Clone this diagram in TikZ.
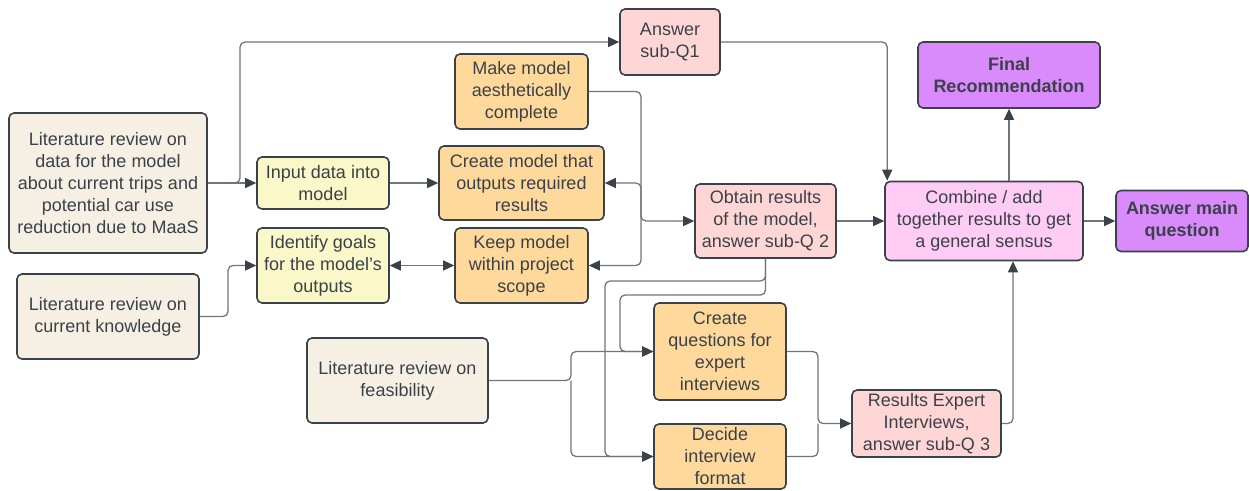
\documentclass[tikz,border=0pt]{standalone}
\usepackage{fontspec}
\setmainfont{Liberation Sans}
\usetikzlibrary{arrows.meta}
\definecolor{ink}{HTML}{3B4148}
\definecolor{wire}{HTML}{6E757C}
\definecolor{beige}{HTML}{F5F0E3}
\definecolor{lemon}{HTML}{FAF8C8}
\definecolor{apricot}{HTML}{FFD99C}
\definecolor{rose}{HTML}{FFD6D6}
\definecolor{orchid}{HTML}{FFCCF5}
\definecolor{violet}{HTML}{D98BFB}
\tikzset{
  tip/.tip={Triangle[length=11pt,width=10pt,color=ink]},
  box/.style={draw=ink, line width=1.6pt, rounded corners=5pt, text=ink,
    align=center, inner sep=0pt, font=\fontsize{18}{22}\selectfont},
  conn/.style={draw=wire, line width=1.3pt, rounded corners=5pt, -tip},
  link/.style={draw=wire, line width=1.3pt, rounded corners=5pt},
  both/.style={draw=wire, line width=1.3pt, tip-tip},
}
\begin{document}
\begin{tikzpicture}[x=1pt,y=-1pt]
\useasboundingbox (0,0) rectangle (1249,490);
% boxes
\node[box, fill=beige, minimum width=198, minimum height=140] (lit1) at (108,183)
  {Literature review on\\data for the model\\about current trips and\\potential car use\\reduction due to MaaS};
\node[box, fill=beige, minimum width=182, minimum height=85] (lit2) at (108,316.5)
  {Literature review on\\current knowledge};
\node[box, fill=lemon, minimum width=132, minimum height=52] (input) at (323,183)
  {Input data into\\model};
\node[box, fill=lemon, minimum width=132, minimum height=75] (goals) at (323,265.5)
  {Identify goals\\for the model's\\outputs};
\node[box, fill=rose, minimum width=100, minimum height=66] (subq1) at (670,42)
  {Answer\\sub-Q1};
\node[box, fill=apricot, minimum width=133, minimum height=75] (make) at (521.5,91.5)
  {Make model\\aesthetically\\complete};
\node[box, fill=apricot, minimum width=165, minimum height=74] (create) at (521.5,183)
  {Create model that\\outputs required\\results};
\node[box, fill=apricot, minimum width=133, minimum height=75] (keep) at (521.5,265.5)
  {Keep model\\within project\\scope};
\node[box, fill=rose, minimum width=141, minimum height=74] (obtain) at (765.5,221)
  {Obtain results\\of the model,\\answer sub-Q 2};
\node[box, fill=orchid, minimum width=198, minimum height=79] (combine) at (984,221)
  {Combine / add\\together results to get\\a general sensus};
\node[box, fill=violet, minimum width=182, minimum height=66, font=\fontsize{18}{22}\selectfont\bfseries] (final) at (1009,75)
  {Final\\Recommendation};
\node[box, fill=violet, minimum width=132, minimum height=61, font=\fontsize{18}{22}\selectfont\bfseries] (answer) at (1182,221)
  {Answer main\\question};
\node[box, fill=beige, minimum width=181, minimum height=85] (feas) at (397.5,380.5)
  {Literature review on\\feasibility};
\node[box, fill=apricot, minimum width=132, minimum height=97] (questions) at (720,351.5)
  {Create\\questions for\\expert\\interviews};
\node[box, fill=apricot, minimum width=132, minimum height=65] (decide) at (720,456.5)
  {Decide\\interview\\format};
\node[box, fill=rose, minimum width=149, minimum height=67] (results) at (926.5,423.5)
  {Results Expert\\Interviews,\\answer sub-Q 3};
% junction points
\coordinate (j1) at (240,183);
\coordinate (j2) at (641,221);
\coordinate (j3) at (571,380.5);
\coordinate (j4) at (818,423.5);
% connectors
\draw[conn] (lit1.east) -- (input.west);
\draw[conn] (lit1.east) -- (j1) |- (subq1.west);
\draw[conn] (subq1.east) -| ([xshift=3pt]combine.north west);
\draw[conn] (final.south |- combine.north) -- (final.south);
\draw[conn] (combine.east) -- (answer.west);
\draw[conn] (input.east) -- (create.west);
\draw[conn] (make.east) -| (j2) -- (obtain.west);
\draw[conn] (j2) |- (create.east);
\draw[conn] (j2) |- (keep.east);
\draw[both] (goals.east) -- (keep.west);
\draw[conn] (lit2.east) -| (228,265.5) -- (goals.west);
\draw[conn] (obtain.south) |- (605,281) |- (decide.west);
\draw[conn] (obtain.south) |- (620,295) |- (questions.west);
\draw[conn] (feas.east) -- (j3) |- (questions.west);
\draw[conn] (j3) |- (decide.west);
\draw[conn] (questions.east) -| (j4) -- (results.west);
\draw[link] (decide.east) -| (j4);
\draw[conn] (results.east) -| ([xshift=29pt]combine.south);
\draw[conn] (obtain.east) -- (combine.west);
\end{tikzpicture}
\end{document}
